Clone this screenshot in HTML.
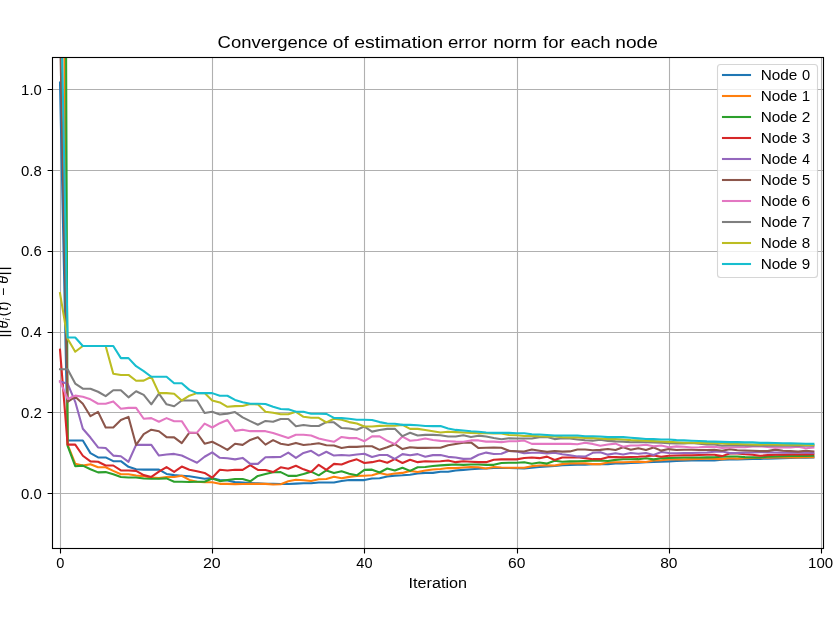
<!DOCTYPE html>
<html><head><meta charset="utf-8"><style>html,body{margin:0;padding:0;background:#fff;width:836px;height:641px;overflow:hidden}</style></head>
<body><svg width="836" height="641" viewBox="0 0 836 641" style="display:block;will-change:transform" font-family='"Liberation Sans", sans-serif'><defs><clipPath id="ax"><rect x="52.5" y="57.5" width="771" height="491"/></clipPath></defs><rect x="0" y="0" width="836" height="641" fill="#ffffff"/><path d="M60.5 57.5V548.5M212.5 57.5V548.5M364.5 57.5V548.5M517.5 57.5V548.5M669.5 57.5V548.5M821.5 57.5V548.5M52.5 89.5H823.5M52.5 170.5H823.5M52.5 251.5H823.5M52.5 332.5H823.5M52.5 412.5H823.5M52.5 493.5H823.5" stroke="#b0b0b0" stroke-width="1.11" fill="none"/><g clip-path="url(#ax)" fill="none" stroke-width="2.08" stroke-linejoin="round" stroke-linecap="square"><polyline points="60.00,82.63 67.61,440.58 75.22,440.58 82.83,440.58 90.44,453.10 98.05,457.42 105.66,457.42 113.27,461.18 120.88,461.18 128.49,466.84 136.10,469.26 143.71,469.66 151.32,469.66 158.93,469.66 166.54,473.91 174.15,475.12 181.76,475.72 189.37,476.33 196.98,477.50 204.59,478.71 212.20,478.15 219.81,479.93 227.42,480.57 235.03,482.11 242.64,482.59 250.25,483.00 257.86,483.40 265.47,483.80 273.08,483.80 280.69,484.01 288.30,484.01 295.91,483.64 303.52,483.28 311.13,483.28 318.74,482.43 326.35,482.43 333.96,482.47 341.57,480.94 349.18,480.09 356.79,480.09 364.40,480.09 372.01,478.51 379.62,478.31 387.23,476.49 394.84,475.64 402.45,475.28 410.06,474.67 417.67,473.50 425.28,472.90 432.89,472.90 440.50,471.68 448.11,471.68 455.72,470.51 463.33,469.91 470.94,469.30 478.55,468.73 486.16,468.49 493.77,468.05 501.38,468.05 508.99,468.05 516.60,468.25 524.21,468.37 531.82,467.72 539.43,467.04 547.04,466.55 554.65,466.03 562.26,465.30 569.87,465.02 577.48,464.74 585.09,464.74 592.70,464.33 600.31,464.09 607.92,464.09 615.53,463.40 623.14,463.44 630.75,462.84 638.36,462.59 645.97,462.27 653.58,461.99 661.19,461.66 668.80,461.38 676.41,461.06 684.02,460.78 691.63,460.45 699.24,460.21 706.85,460.57 714.46,460.37 722.07,459.73 729.68,459.56 737.29,459.36 744.90,459.16 752.51,458.96 760.12,458.84 767.73,458.63 775.34,458.35 782.95,458.15 790.56,457.95 798.17,457.75 805.78,457.62 813.39,457.50" stroke="#1f77b4"/><polyline points="60.00,-488.22 67.61,444.70 75.22,463.68 82.83,465.62 90.44,464.33 98.05,467.24 105.66,467.24 113.27,470.88 120.88,474.31 128.49,474.31 136.10,475.48 143.71,476.29 151.32,477.50 158.93,478.15 166.54,476.94 174.15,476.94 181.76,475.72 189.37,479.93 196.98,481.70 204.59,482.31 212.20,482.31 219.81,483.84 227.42,483.84 235.03,484.09 242.64,484.01 250.25,483.88 257.86,483.88 265.47,483.88 273.08,484.45 280.69,484.29 288.30,481.30 295.91,479.76 303.52,480.33 311.13,481.02 318.74,479.24 326.35,478.92 333.96,476.73 341.57,478.31 349.18,476.86 356.79,475.89 364.40,475.68 372.01,475.28 379.62,472.90 387.23,474.67 394.84,473.50 402.45,472.90 410.06,470.88 417.67,472.09 425.28,470.51 432.89,469.46 440.50,468.94 448.11,468.09 455.72,468.09 463.33,467.52 470.94,466.92 478.55,467.24 486.16,468.49 493.77,466.92 501.38,467.52 508.99,467.77 516.60,467.77 524.21,467.72 531.82,466.15 539.43,465.54 547.04,465.30 554.65,465.54 562.26,464.13 569.87,463.40 577.48,463.40 585.09,463.40 592.70,464.13 600.31,464.13 607.92,462.55 615.53,462.19 623.14,462.27 630.75,461.99 638.36,461.66 645.97,461.99 653.58,460.45 661.19,460.17 668.80,459.56 676.41,459.36 684.02,459.36 691.63,459.16 699.24,458.84 706.85,458.76 714.46,458.84 722.07,459.12 729.68,458.27 737.29,458.63 744.90,458.11 752.51,457.91 760.12,457.50 767.73,457.75 775.34,457.54 782.95,457.54 790.56,457.46 798.17,457.34 805.78,457.26 813.39,457.18" stroke="#ff7f0e"/><polyline points="60.00,-1526.50 67.61,445.83 75.22,466.19 82.83,465.62 90.44,469.26 98.05,472.41 105.66,472.09 113.27,474.31 120.88,476.94 128.49,477.54 136.10,477.54 143.71,478.51 151.32,478.71 158.93,478.71 166.54,478.35 174.15,481.70 181.76,481.70 189.37,482.07 196.98,481.70 204.59,481.70 212.20,478.51 219.81,481.10 227.42,479.93 235.03,478.96 242.64,478.92 250.25,481.30 257.86,475.89 265.47,474.11 273.08,472.29 280.69,472.09 288.30,475.89 295.91,475.89 303.52,474.11 311.13,471.68 318.74,475.32 326.35,470.47 333.96,472.90 341.57,471.32 349.18,473.70 356.79,475.28 364.40,469.91 372.01,469.66 379.62,472.53 387.23,468.49 394.84,470.51 402.45,467.77 410.06,470.88 417.67,467.28 425.28,466.92 432.89,466.07 440.50,465.34 448.11,464.86 455.72,464.49 463.33,464.86 470.94,464.49 478.55,464.49 486.16,464.86 493.77,464.86 501.38,462.96 508.99,462.72 516.60,462.72 524.21,462.19 531.82,463.81 539.43,462.55 547.04,463.60 554.65,460.78 562.26,461.75 569.87,461.38 577.48,461.18 585.09,460.98 592.70,460.78 600.31,460.57 607.92,460.98 615.53,459.85 623.14,459.28 630.75,459.28 638.36,459.16 645.97,458.31 653.58,459.36 661.19,458.31 668.80,458.07 676.41,457.83 684.02,457.46 691.63,457.46 699.24,457.46 706.85,457.34 714.46,457.18 722.07,456.82 729.68,456.45 737.29,456.45 744.90,457.14 752.51,457.34 760.12,457.42 767.73,456.66 775.34,456.41 782.95,456.13 790.56,455.93 798.17,455.93 805.78,455.85 813.39,455.77" stroke="#2ca02c"/><polyline points="60.00,349.68 67.61,444.62 75.22,444.62 82.83,455.73 90.44,461.38 98.05,461.79 105.66,465.50 113.27,465.50 120.88,470.47 128.49,470.47 136.10,470.88 143.71,475.12 151.32,476.94 158.93,471.68 166.54,467.04 174.15,471.89 181.76,466.55 189.37,469.79 196.98,471.28 204.59,472.90 212.20,477.74 219.81,469.79 227.42,470.47 235.03,469.79 242.64,469.91 250.25,465.10 257.86,469.91 265.47,470.07 273.08,472.09 280.69,467.28 288.30,468.73 295.91,465.70 303.52,469.34 311.13,472.09 318.74,464.86 326.35,469.91 333.96,463.89 341.57,464.53 349.18,461.54 356.79,459.36 364.40,462.96 372.01,462.15 379.62,460.57 387.23,462.72 394.84,459.12 402.45,462.96 410.06,459.73 417.67,462.15 425.28,461.30 432.89,461.54 440.50,461.30 448.11,460.57 455.72,462.15 463.33,461.30 470.94,461.79 478.55,462.15 486.16,462.15 493.77,459.73 501.38,459.36 508.99,459.36 516.60,459.36 524.21,458.03 531.82,457.54 539.43,458.15 547.04,456.61 554.65,460.05 562.26,457.54 569.87,457.54 577.48,457.34 585.09,458.15 592.70,459.16 600.31,459.16 607.92,457.14 615.53,457.14 623.14,457.18 630.75,456.94 638.36,456.74 645.97,456.29 653.58,455.44 661.19,456.74 668.80,455.69 676.41,455.44 684.02,455.20 691.63,455.20 699.24,454.92 706.85,454.80 714.46,454.80 722.07,456.13 729.68,453.58 737.29,453.58 744.90,454.31 752.51,454.80 760.12,455.73 767.73,455.12 775.34,454.72 782.95,454.68 790.56,454.51 798.17,454.47 805.78,454.39 813.39,454.31" stroke="#d62728"/><polyline points="60.00,381.59 67.61,383.69 75.22,401.79 82.83,428.70 90.44,437.51 98.05,447.44 105.66,447.93 113.27,455.60 120.88,456.25 128.49,461.79 136.10,444.90 143.71,444.90 151.32,444.90 158.93,455.52 166.54,454.51 174.15,453.91 181.76,455.52 189.37,459.16 196.98,462.80 204.59,456.74 212.20,452.29 219.81,457.83 227.42,458.23 235.03,459.36 242.64,457.91 250.25,463.89 257.86,463.89 265.47,457.30 273.08,457.14 280.69,456.94 288.30,452.57 295.91,457.91 303.52,452.94 311.13,450.80 318.74,455.56 326.35,451.73 333.96,455.56 341.57,454.96 349.18,455.56 356.79,454.59 364.40,453.75 372.01,456.98 379.62,454.96 387.23,454.96 394.84,458.96 402.45,454.11 410.06,455.32 417.67,454.11 425.28,456.78 432.89,455.12 440.50,455.04 448.11,456.86 455.72,457.46 463.33,458.88 470.94,458.76 478.55,454.72 486.16,452.62 493.77,454.07 501.38,453.83 508.99,450.84 516.60,451.44 524.21,453.30 531.82,452.82 539.43,452.82 547.04,453.42 554.65,452.82 562.26,454.27 569.87,455.24 577.48,456.41 585.09,456.66 592.70,452.82 600.31,452.21 607.92,454.64 615.53,453.26 623.14,454.47 630.75,453.02 638.36,453.71 645.97,453.02 653.58,455.04 661.19,452.09 668.80,453.02 676.41,453.26 684.02,453.02 691.63,453.02 699.24,452.78 706.85,452.49 714.46,451.77 722.07,451.44 729.68,453.10 737.29,452.98 744.90,452.62 752.51,452.49 760.12,452.13 767.73,452.37 775.34,452.49 782.95,452.62 790.56,452.70 798.17,452.78 805.78,452.82 813.39,452.86" stroke="#9467bd"/><polyline points="60.00,26.88 67.61,401.79 75.22,396.78 82.83,403.69 90.44,416.21 98.05,411.89 105.66,427.49 113.27,427.49 120.88,419.97 128.49,416.90 136.10,444.90 143.71,434.11 151.32,429.67 158.93,431.28 166.54,437.10 174.15,437.34 181.76,443.12 189.37,432.70 196.98,433.02 204.59,443.69 212.20,441.79 219.81,445.59 227.42,449.87 235.03,443.69 242.64,444.86 250.25,439.93 257.86,437.18 265.47,444.62 273.08,440.17 280.69,443.69 288.30,445.02 295.91,442.88 303.52,445.02 311.13,444.21 318.74,443.20 326.35,445.18 333.96,445.42 341.57,447.93 349.18,446.84 356.79,446.84 364.40,446.27 372.01,446.27 379.62,449.83 387.23,447.24 394.84,444.17 402.45,449.10 410.06,447.24 417.67,447.85 425.28,447.85 432.89,447.81 440.50,447.81 448.11,445.18 455.72,444.01 463.33,442.80 470.94,442.43 478.55,448.05 486.16,447.81 493.77,447.44 501.38,447.81 508.99,450.84 516.60,451.20 524.21,451.48 531.82,449.50 539.43,450.68 547.04,451.89 554.65,451.04 562.26,451.65 569.87,451.40 577.48,449.50 585.09,449.50 592.70,450.23 600.31,449.87 607.92,449.02 615.53,450.07 623.14,447.28 630.75,449.71 638.36,448.25 645.97,449.95 653.58,447.52 661.19,450.64 668.80,449.10 676.41,449.95 684.02,449.71 691.63,449.71 699.24,449.95 706.85,450.03 714.46,449.83 722.07,450.72 729.68,449.30 737.29,450.27 744.90,450.43 752.51,450.72 760.12,451.12 767.73,451.12 775.34,449.63 782.95,450.68 790.56,451.12 798.17,451.65 805.78,450.68 813.39,451.40" stroke="#8c564b"/><polyline points="60.00,381.19 67.61,398.96 75.22,395.61 82.83,396.78 90.44,399.29 98.05,403.73 105.66,403.73 113.27,401.39 120.88,408.66 128.49,407.85 136.10,407.85 143.71,418.76 151.32,418.15 158.93,421.79 166.54,418.15 174.15,421.18 181.76,421.18 189.37,432.70 196.98,432.70 204.59,423.69 212.20,427.49 219.81,423.20 227.42,419.97 235.03,430.88 242.64,429.67 250.25,431.16 257.86,431.16 265.47,431.16 273.08,433.02 280.69,435.53 288.30,437.99 295.91,434.68 303.52,434.68 311.13,435.53 318.74,438.56 326.35,440.17 333.96,441.79 341.57,436.94 349.18,438.15 356.79,438.15 364.40,441.18 372.01,436.41 379.62,436.41 387.23,440.78 394.84,444.09 402.45,436.54 410.06,440.78 417.67,439.97 425.28,438.43 432.89,440.09 440.50,440.90 448.11,441.26 455.72,441.63 463.33,441.79 470.94,440.41 478.55,440.41 486.16,441.63 493.77,441.63 501.38,442.11 508.99,441.26 516.60,441.26 524.21,440.58 531.82,443.89 539.43,443.89 547.04,443.89 554.65,443.89 562.26,443.89 569.87,443.89 577.48,444.25 585.09,442.68 592.70,443.89 600.31,445.67 607.92,444.45 615.53,443.61 623.14,446.72 630.75,445.50 638.36,445.50 645.97,444.66 653.58,446.35 661.19,445.50 668.80,447.28 676.41,446.35 684.02,446.72 691.63,447.52 699.24,447.28 706.85,446.84 714.46,446.80 722.07,447.85 729.68,447.44 737.29,447.32 744.90,447.12 752.51,446.43 760.12,446.23 767.73,447.04 775.34,447.61 782.95,447.44 790.56,447.44 798.17,446.80 805.78,448.21 813.39,447.48" stroke="#e377c2"/><polyline points="60.00,369.19 67.61,369.19 75.22,383.61 82.83,388.70 90.44,388.70 98.05,391.77 105.66,396.14 113.27,390.20 120.88,390.20 128.49,397.35 136.10,391.29 143.71,394.92 151.32,404.30 158.93,393.71 166.54,404.30 174.15,406.24 181.76,400.50 189.37,400.50 196.98,400.50 204.59,412.98 212.20,411.73 219.81,414.52 227.42,413.63 235.03,412.09 242.64,417.39 250.25,421.18 257.86,424.70 265.47,420.94 273.08,421.83 280.69,418.92 288.30,418.92 295.91,426.19 303.52,424.94 311.13,425.95 318.74,425.95 326.35,422.19 333.96,422.32 341.57,428.05 349.18,428.46 356.79,429.79 364.40,426.52 372.01,431.61 379.62,429.99 387.23,428.86 394.84,428.86 402.45,436.13 410.06,432.82 417.67,435.53 425.28,434.84 432.89,434.84 440.50,435.28 448.11,436.50 455.72,436.50 463.33,435.28 470.94,437.10 478.55,435.65 486.16,436.50 493.77,438.03 501.38,439.24 508.99,438.27 516.60,438.56 524.21,438.56 531.82,438.52 539.43,437.14 547.04,436.90 554.65,439.12 562.26,438.31 569.87,438.52 577.48,439.49 585.09,440.33 592.70,440.66 600.31,439.69 607.92,440.90 615.53,441.34 623.14,441.59 630.75,442.27 638.36,441.95 645.97,442.27 653.58,442.52 661.19,442.76 668.80,443.12 676.41,443.48 684.02,443.48 691.63,442.88 699.24,443.73 706.85,444.45 714.46,444.58 722.07,445.71 729.68,445.34 737.29,445.22 744.90,445.34 752.51,445.71 760.12,445.71 767.73,445.71 775.34,445.71 782.95,445.71 790.56,445.71 798.17,445.71 805.78,445.71 813.39,445.71" stroke="#7f7f7f"/><polyline points="60.00,293.12 67.61,338.77 75.22,351.78 82.83,346.04 90.44,346.04 98.05,346.04 105.66,346.04 113.27,373.67 120.88,374.93 128.49,374.93 136.10,380.78 143.71,380.62 151.32,376.74 158.93,393.11 166.54,393.11 174.15,393.71 181.76,400.50 189.37,395.73 196.98,393.11 204.59,393.11 212.20,400.50 219.81,402.40 227.42,406.80 235.03,406.16 242.64,405.95 250.25,403.97 257.86,404.34 265.47,411.81 273.08,412.78 280.69,414.32 288.30,414.32 295.91,411.81 303.52,416.82 311.13,417.83 318.74,417.83 326.35,422.40 333.96,418.76 341.57,419.69 349.18,422.11 356.79,423.49 364.40,426.52 372.01,426.52 379.62,425.91 387.23,425.71 394.84,425.71 402.45,424.90 410.06,428.86 417.67,428.86 425.28,430.07 432.89,431.32 440.50,432.50 448.11,431.69 455.72,432.09 463.33,432.50 470.94,432.90 478.55,433.26 486.16,433.26 493.77,433.51 501.38,433.51 508.99,434.92 516.60,435.28 524.21,435.93 531.82,435.85 539.43,436.33 547.04,436.54 554.65,436.54 562.26,437.14 569.87,437.34 577.48,437.34 585.09,437.91 592.70,438.15 600.31,438.52 607.92,439.12 615.53,439.16 623.14,439.53 630.75,440.13 638.36,440.37 645.97,440.74 653.58,441.10 661.19,441.55 668.80,441.87 676.41,442.27 684.02,442.76 691.63,442.76 699.24,443.00 706.85,443.12 714.46,443.16 722.07,443.53 729.68,443.89 737.29,444.01 744.90,444.25 752.51,444.45 760.12,444.62 767.73,444.45 775.34,444.54 782.95,444.63 790.56,444.72 798.17,444.80 805.78,444.89 813.39,444.98" stroke="#bcbd22"/><polyline points="60.00,-55.94 67.61,337.56 75.22,337.56 82.83,346.04 90.44,346.04 98.05,346.04 105.66,346.04 113.27,346.04 120.88,358.16 128.49,358.16 136.10,366.24 143.71,371.09 151.32,376.74 158.93,376.74 166.54,376.74 174.15,383.21 181.76,383.21 189.37,389.87 196.98,393.11 204.59,393.11 212.20,393.11 219.81,395.73 227.42,395.73 235.03,399.89 242.64,402.20 250.25,403.73 257.86,403.73 265.47,403.97 273.08,406.80 280.69,408.98 288.30,409.35 295.91,411.81 303.52,411.81 311.13,413.71 318.74,413.71 326.35,413.87 333.96,417.95 341.57,418.11 349.18,418.72 356.79,419.69 364.40,419.69 372.01,419.97 379.62,422.11 387.23,423.49 394.84,423.69 402.45,424.90 410.06,424.90 417.67,425.22 425.28,426.07 432.89,426.11 440.50,426.11 448.11,428.50 455.72,429.91 463.33,430.48 470.94,431.32 478.55,431.81 486.16,432.50 493.77,432.90 501.38,432.90 508.99,432.90 516.60,433.26 524.21,433.26 531.82,434.31 539.43,434.52 547.04,434.96 554.65,435.57 562.26,435.57 569.87,435.57 577.48,435.57 585.09,436.17 592.70,436.33 600.31,436.54 607.92,437.14 615.53,437.10 623.14,437.10 630.75,437.75 638.36,438.35 645.97,438.92 653.58,439.16 661.19,439.53 668.80,439.53 676.41,440.13 684.02,440.37 691.63,440.74 699.24,440.98 706.85,441.38 714.46,441.59 722.07,441.87 729.68,442.11 737.29,442.11 744.90,442.35 752.51,442.35 760.12,442.84 767.73,442.84 775.34,443.04 782.95,443.20 790.56,443.36 798.17,443.57 805.78,443.73 813.39,443.89" stroke="#17becf"/></g><rect x="52.5" y="57.5" width="771" height="491" fill="none" stroke="#000" stroke-width="1.11"/><path d="M60.5 548.5V553.4M212.5 548.5V553.4M364.5 548.5V553.4M517.5 548.5V553.4M669.5 548.5V553.4M821.5 548.5V553.4M52.5 89.5H47.6M52.5 170.5H47.6M52.5 251.5H47.6M52.5 332.5H47.6M52.5 412.5H47.6M52.5 493.5H47.6" stroke="#000" stroke-width="1.11" fill="none"/><g fill="#000"><text x="56.37" y="568.0" font-size="13.89" textLength="8.12" lengthAdjust="spacingAndGlyphs">0</text><text x="202.98" y="568.0" font-size="13.89" textLength="17.77" lengthAdjust="spacingAndGlyphs">20</text><text x="356.34" y="568.0" font-size="13.89" textLength="16.15" lengthAdjust="spacingAndGlyphs">40</text><text x="508.10" y="568.0" font-size="13.89" textLength="17.33" lengthAdjust="spacingAndGlyphs">60</text><text x="660.20" y="568.0" font-size="13.89" textLength="17.33" lengthAdjust="spacingAndGlyphs">80</text><text x="808.12" y="568.0" font-size="13.89" textLength="25.06" lengthAdjust="spacingAndGlyphs">100</text><text x="21.13" y="94.6" font-size="13.89" textLength="20.66" lengthAdjust="spacingAndGlyphs">1.0</text><text x="21.06" y="175.6" font-size="13.89" textLength="20.72" lengthAdjust="spacingAndGlyphs">0.8</text><text x="21.06" y="255.6" font-size="13.89" textLength="20.72" lengthAdjust="spacingAndGlyphs">0.6</text><text x="21.07" y="336.6" font-size="13.89" textLength="20.58" lengthAdjust="spacingAndGlyphs">0.4</text><text x="21.06" y="417.6" font-size="13.89" textLength="20.87" lengthAdjust="spacingAndGlyphs">0.2</text><text x="21.06" y="498.6" font-size="13.89" textLength="20.72" lengthAdjust="spacingAndGlyphs">0.0</text><text x="217.63" y="48.0" font-size="16.67" textLength="110.05" lengthAdjust="spacingAndGlyphs">Convergence</text><text x="332.89" y="48.0" font-size="16.67" textLength="15.91" lengthAdjust="spacingAndGlyphs">of</text><text x="354.17" y="48.0" font-size="16.67" textLength="88.96" lengthAdjust="spacingAndGlyphs">estimation</text><text x="447.90" y="48.0" font-size="16.67" textLength="39.33" lengthAdjust="spacingAndGlyphs">error</text><text x="493.20" y="48.0" font-size="16.67" textLength="43.74" lengthAdjust="spacingAndGlyphs">norm</text><text x="543.02" y="48.0" font-size="16.67" textLength="21.60" lengthAdjust="spacingAndGlyphs">for</text><text x="570.40" y="48.0" font-size="16.67" textLength="40.31" lengthAdjust="spacingAndGlyphs">each</text><text x="615.31" y="48.0" font-size="16.67" textLength="42.48" lengthAdjust="spacingAndGlyphs">node</text><text x="408.54" y="588.0" font-size="13.89" textLength="58.50" lengthAdjust="spacingAndGlyphs">Iteration</text></g><g fill="#000"><rect x="-3" y="334.85" width="14.2" height="1.3"/><rect x="-3" y="330.85" width="14.2" height="1.3"/><rect x="-3" y="272.75" width="14.2" height="1.3"/><rect x="-3" y="267.75" width="14.2" height="1.3"/><text transform="translate(7.9,324.6) rotate(-90)" font-size="14.4" text-anchor="middle" font-style="italic">θ</text><text transform="translate(9.9,319.4) rotate(-90)" font-size="9.7" text-anchor="middle" font-style="italic">i</text><text transform="translate(7.9,313.9) rotate(-90)" font-size="13.89" text-anchor="middle">(</text><text transform="translate(7.9,308.6) rotate(-90)" font-size="13.89" text-anchor="middle" font-style="italic">t</text><text transform="translate(7.9,304.0) rotate(-90)" font-size="13.89" text-anchor="middle">)</text><text transform="translate(7.9,292.0) rotate(-90)" font-size="13.89" text-anchor="middle">−</text><text transform="translate(7.9,279.8) rotate(-90)" font-size="14.4" text-anchor="middle" font-style="italic">θ</text></g><rect x="717.5" y="64.5" width="100" height="213" rx="3" ry="3" fill="rgba(255,255,255,0.8)" stroke="rgba(204,204,204,0.8)" stroke-width="1.11"/><path d="M723 75.0H750" stroke="#1f77b4" stroke-width="2.08" stroke-linecap="square"/><path d="M723 96.0H750" stroke="#ff7f0e" stroke-width="2.08" stroke-linecap="square"/><path d="M723 117.0H750" stroke="#2ca02c" stroke-width="2.08" stroke-linecap="square"/><path d="M723 138.0H750" stroke="#d62728" stroke-width="2.08" stroke-linecap="square"/><path d="M723 159.0H750" stroke="#9467bd" stroke-width="2.08" stroke-linecap="square"/><path d="M723 180.0H750" stroke="#8c564b" stroke-width="2.08" stroke-linecap="square"/><path d="M723 201.0H750" stroke="#e377c2" stroke-width="2.08" stroke-linecap="square"/><path d="M723 222.0H750" stroke="#7f7f7f" stroke-width="2.08" stroke-linecap="square"/><path d="M723 243.0H750" stroke="#bcbd22" stroke-width="2.08" stroke-linecap="square"/><path d="M723 264.0H750" stroke="#17becf" stroke-width="2.08" stroke-linecap="square"/><g fill="#000"><text x="760.76" y="80.0" font-size="13.89" textLength="36.65" lengthAdjust="spacingAndGlyphs">Node</text><text x="801.97" y="80.0" font-size="13.89" textLength="8.12" lengthAdjust="spacingAndGlyphs">0</text><text x="760.76" y="101.0" font-size="13.89" textLength="36.65" lengthAdjust="spacingAndGlyphs">Node</text><text x="801.81" y="101.0" font-size="13.89" textLength="8.44" lengthAdjust="spacingAndGlyphs">1</text><text x="760.76" y="122.0" font-size="13.89" textLength="36.65" lengthAdjust="spacingAndGlyphs">Node</text><text x="801.80" y="122.0" font-size="13.89" textLength="8.60" lengthAdjust="spacingAndGlyphs">2</text><text x="760.76" y="143.0" font-size="13.89" textLength="36.65" lengthAdjust="spacingAndGlyphs">Node</text><text x="801.96" y="143.0" font-size="13.89" textLength="8.27" lengthAdjust="spacingAndGlyphs">3</text><text x="760.76" y="164.0" font-size="13.89" textLength="36.65" lengthAdjust="spacingAndGlyphs">Node</text><text x="802.25" y="164.0" font-size="13.89" textLength="7.69" lengthAdjust="spacingAndGlyphs">4</text><text x="760.76" y="185.0" font-size="13.89" textLength="36.65" lengthAdjust="spacingAndGlyphs">Node</text><text x="801.96" y="185.0" font-size="13.89" textLength="8.27" lengthAdjust="spacingAndGlyphs">5</text><text x="760.76" y="206.0" font-size="13.89" textLength="36.65" lengthAdjust="spacingAndGlyphs">Node</text><text x="801.82" y="206.0" font-size="13.89" textLength="8.43" lengthAdjust="spacingAndGlyphs">6</text><text x="760.76" y="227.0" font-size="13.89" textLength="36.65" lengthAdjust="spacingAndGlyphs">Node</text><text x="801.80" y="227.0" font-size="13.89" textLength="8.60" lengthAdjust="spacingAndGlyphs">7</text><text x="760.76" y="248.0" font-size="13.89" textLength="36.65" lengthAdjust="spacingAndGlyphs">Node</text><text x="801.82" y="248.0" font-size="13.89" textLength="8.43" lengthAdjust="spacingAndGlyphs">8</text><text x="760.76" y="269.0" font-size="13.89" textLength="36.65" lengthAdjust="spacingAndGlyphs">Node</text><text x="801.82" y="269.0" font-size="13.89" textLength="8.43" lengthAdjust="spacingAndGlyphs">9</text></g></svg></body></html>
